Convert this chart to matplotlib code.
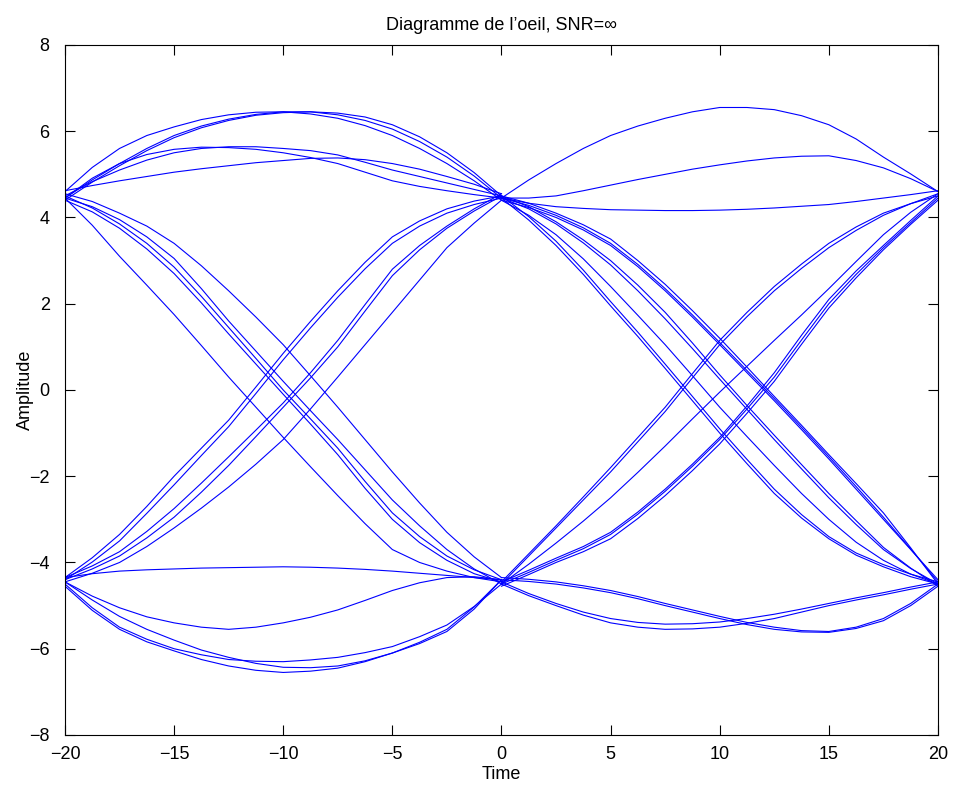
"""Diagramme de l'oeil, SNR=inf -- eye diagram redrawn from read-off points."""
import matplotlib
matplotlib.use("Agg")
import matplotlib.pyplot as plt

plt.rcParams["font.family"] = ["Liberation Sans", "DejaVu Sans"]

# sample instants for each half of the 2-symbol window
t_left = [-20, -18.75, -17.5, -16.25, -15, -13.75, -12.5, -11.25, -10,
          -8.75, -7.5, -6.25, -5, -3.75, -2.5, -1.25, 0]
t_right = [0, 1.25, 2.5, 3.75, 5, 6.25, 7.5, 8.75, 10,
           11.25, 12.5, 13.75, 15, 16.25, 17.5, 18.75, 20]

# left half (-20 .. 0): high -> high
left_upper = [
    [4.6, 5.16, 5.6, 5.9, 6.1, 6.27, 6.38, 6.44, 6.45, 6.4, 6.3, 6.13, 5.9, 5.6, 5.25, 4.85, 4.4],
    [4.4, 4.82, 5.2, 5.55, 5.85, 6.08, 6.25, 6.37, 6.43, 6.45, 6.42, 6.33, 6.15, 5.87, 5.5, 5.04, 4.5],
    [4.45, 4.87, 5.25, 5.6, 5.9, 6.12, 6.28, 6.39, 6.45, 6.45, 6.38, 6.25, 6.05, 5.76, 5.4, 4.96, 4.45],
    [4.5, 4.83, 5.1, 5.33, 5.5, 5.6, 5.64, 5.64, 5.6, 5.55, 5.45, 5.28, 5.1, 4.95, 4.8, 4.65, 4.5],
    [4.45, 4.91, 5.25, 5.46, 5.58, 5.63, 5.62, 5.58, 5.5, 5.39, 5.25, 5.05, 4.85, 4.72, 4.62, 4.53, 4.45],
    [4.62, 4.74, 4.85, 4.95, 5.05, 5.13, 5.2, 5.27, 5.32, 5.37, 5.38, 5.34, 5.25, 5.12, 4.95, 4.77, 4.55],
]
# high -> low
left_falling = [
    [4.45, 3.82, 3.1, 2.43, 1.75, 1.03, 0.3, -0.4, -1.1, -1.78, -2.45, -3.1, -3.7, -4.0, -4.2, -4.35, -4.45],
    [4.4, 4.13, 3.75, 3.27, 2.7, 2.02, 1.3, 0.6, -0.1, -0.79, -1.5, -2.28, -3.0, -3.54, -3.95, -4.26, -4.45],
    [4.5, 4.22, 3.85, 3.4, 2.85, 2.17, 1.45, 0.73, 0.0, -0.67, -1.35, -2.12, -2.85, -3.4, -3.85, -4.17, -4.4],
    [4.45, 4.25, 3.95, 3.55, 3.05, 2.35, 1.6, 0.9, 0.2, -0.48, -1.15, -1.85, -2.55, -3.15, -3.7, -4.15, -4.5],
    [4.55, 4.37, 4.1, 3.8, 3.4, 2.88, 2.3, 1.69, 1.05, 0.33, -0.4, -1.15, -1.9, -2.62, -3.3, -3.87, -4.35],
]
# low -> high
left_rising = [
    [-4.35, -3.89, -3.35, -2.7, -2.0, -1.35, -0.7, 0.07, 0.85, 1.59, 2.3, 2.96, 3.55, 3.92, 4.2, 4.38, 4.5],
    [-4.4, -3.99, -3.5, -2.86, -2.2, -1.52, -0.85, -0.08, 0.7, 1.44, 2.15, 2.81, 3.4, 3.8, 4.1, 4.3, 4.45],
    [-4.35, -4.08, -3.75, -3.28, -2.75, -2.16, -1.55, -0.93, -0.3, 0.4, 1.15, 1.98, 2.8, 3.35, 3.8, 4.2, 4.55],
    [-4.4, -4.15, -3.85, -3.43, -2.95, -2.37, -1.75, -1.08, -0.4, 0.28, 1.0, 1.83, 2.65, 3.25, 3.75, 4.15, 4.5],
    [-4.45, -4.25, -4.0, -3.63, -3.2, -2.74, -2.25, -1.72, -1.15, -0.44, 0.3, 1.05, 1.8, 2.55, 3.3, 3.87, 4.4],
]
# low -> low
left_lower = [
    [-4.55, -5.11, -5.55, -5.84, -6.05, -6.25, -6.4, -6.5, -6.55, -6.52, -6.45, -6.3, -6.1, -5.88, -5.6, -5.08, -4.4],
    [-4.45, -4.87, -5.25, -5.55, -5.8, -6.03, -6.2, -6.34, -6.43, -6.44, -6.4, -6.28, -6.1, -5.85, -5.55, -5.03, -4.4],
    [-4.5, -5.05, -5.5, -5.78, -6.0, -6.14, -6.25, -6.29, -6.3, -6.26, -6.2, -6.09, -5.95, -5.72, -5.45, -5.02, -4.5],
    [-4.45, -4.78, -5.05, -5.26, -5.4, -5.5, -5.55, -5.5, -5.4, -5.27, -5.1, -4.88, -4.65, -4.47, -4.35, -4.33, -4.4],
    [-4.35, -4.26, -4.2, -4.17, -4.15, -4.13, -4.12, -4.11, -4.1, -4.11, -4.13, -4.16, -4.2, -4.25, -4.3, -4.35, -4.4],
]

# right half (0 .. 20)
right_upper = [
    [4.45, 4.87, 5.25, 5.6, 5.9, 6.12, 6.3, 6.45, 6.55, 6.55, 6.5, 6.36, 6.15, 5.82, 5.4, 5.01, 4.6],
    [4.45, 4.45, 4.5, 4.62, 4.75, 4.88, 5.0, 5.12, 5.22, 5.31, 5.38, 5.42, 5.43, 5.32, 5.15, 4.9, 4.6],
    [4.45, 4.33, 4.25, 4.21, 4.18, 4.17, 4.16, 4.16, 4.17, 4.19, 4.22, 4.26, 4.3, 4.37, 4.45, 4.53, 4.62],
]
right_falling = [
    [4.45, 3.94, 3.35, 2.68, 1.95, 1.24, 0.5, -0.25, -1.0, -1.71, -2.4, -2.97, -3.45, -3.83, -4.1, -4.33, -4.5],
    [4.5, 4.02, 3.45, 2.78, 2.05, 1.34, 0.6, -0.15, -0.9, -1.61, -2.3, -2.89, -3.4, -3.78, -4.05, -4.27, -4.45],
    [4.4, 4.05, 3.6, 3.04, 2.4, 1.73, 1.05, 0.33, -0.4, -1.08, -1.75, -2.4, -3.0, -3.53, -3.95, -4.27, -4.5],
    [4.45, 4.2, 3.85, 3.41, 2.9, 2.3, 1.65, 0.96, 0.25, -0.45, -1.15, -1.83, -2.5, -3.12, -3.7, -4.14, -4.5],
    [4.5, 4.25, 3.9, 3.48, 3.0, 2.43, 1.8, 1.09, 0.35, -0.36, -1.05, -1.73, -2.4, -3.03, -3.65, -4.13, -4.55],
    [4.4, 4.23, 4.0, 3.71, 3.35, 2.86, 2.3, 1.69, 1.05, 0.4, -0.25, -0.92, -1.6, -2.3, -3.0, -3.7, -4.4],
    [4.45, 4.28, 4.05, 3.76, 3.4, 2.91, 2.35, 1.74, 1.1, 0.45, -0.2, -0.87, -1.55, -2.24, -2.95, -3.69, -4.45],
    [4.5, 4.33, 4.1, 3.83, 3.5, 3.0, 2.45, 1.84, 1.2, 0.53, -0.15, -0.82, -1.5, -2.17, -2.85, -3.66, -4.5],
]
right_rising = [
    [-4.45, -3.8, -3.15, -2.48, -1.8, -1.1, -0.4, 0.38, 1.15, 1.8, 2.4, 2.92, 3.4, 3.78, 4.1, 4.32, 4.5],
    [-4.5, -3.85, -3.2, -2.55, -1.9, -1.2, -0.5, 0.28, 1.05, 1.7, 2.3, 2.82, 3.3, 3.7, 4.05, 4.32, 4.55],
    [-4.5, -4.04, -3.55, -3.04, -2.5, -1.91, -1.3, -0.67, -0.05, 0.55, 1.15, 1.74, 2.35, 2.98, 3.6, 4.12, 4.55],
    [-4.45, -4.18, -3.9, -3.63, -3.3, -2.83, -2.3, -1.72, -1.1, -0.37, 0.4, 1.27, 2.1, 2.76, 3.35, 3.93, 4.5],
    [-4.5, -4.23, -3.95, -3.68, -3.35, -2.88, -2.35, -1.77, -1.15, -0.44, 0.3, 1.16, 2.0, 2.68, 3.3, 3.88, 4.45],
    [-4.55, -4.28, -4.0, -3.75, -3.45, -2.98, -2.45, -1.87, -1.25, -0.54, 0.2, 1.06, 1.9, 2.6, 3.25, 3.84, 4.4],
]
right_lower = [
    [-4.35, -4.39, -4.45, -4.54, -4.65, -4.79, -4.95, -5.1, -5.25, -5.39, -5.5, -5.58, -5.6, -5.5, -5.3, -4.95, -4.5],
    [-4.4, -4.44, -4.5, -4.59, -4.7, -4.84, -5.0, -5.15, -5.3, -5.44, -5.55, -5.61, -5.62, -5.53, -5.35, -5.0, -4.55],
    [-4.5, -4.77, -5.0, -5.22, -5.4, -5.5, -5.55, -5.54, -5.5, -5.41, -5.3, -5.15, -5.0, -4.87, -4.75, -4.62, -4.5],
    [-4.45, -4.72, -4.95, -5.15, -5.3, -5.39, -5.43, -5.42, -5.38, -5.3, -5.2, -5.08, -4.95, -4.82, -4.7, -4.57, -4.45],
]

fig = plt.figure(figsize=(9.54, 7.86), dpi=100)
ax = fig.add_axes([0.0681, 0.0649, 0.9151, 0.8779])

for seg in left_upper + left_falling + left_rising + left_lower:
    ax.plot(t_left, seg, color="#0000ff", lw=0.8)
for seg in right_upper + right_falling + right_rising + right_lower:
    ax.plot(t_right, seg, color="#0000ff", lw=0.8)

ax.set_xlim(-20, 20)
ax.set_ylim(-8, 8)
ax.set_xticks(range(-20, 21, 5))
ax.set_yticks(range(-8, 9, 2))
ax.tick_params(direction="in", top=True, right=True, length=7, labelsize=13)
ax.tick_params(axis="x", pad=8)
ax.tick_params(axis="y", pad=11)
ax.set_title("Diagramme de l\u2019oeil, SNR=\u221e", fontsize=13, pad=11)
ax.set_xlabel("Time", fontsize=13, labelpad=2)
ax.set_ylabel("Amplitude", fontsize=13)
ax.yaxis.set_label_coords(-0.0355, 0.5)

fig.savefig("out.png", dpi=100)
